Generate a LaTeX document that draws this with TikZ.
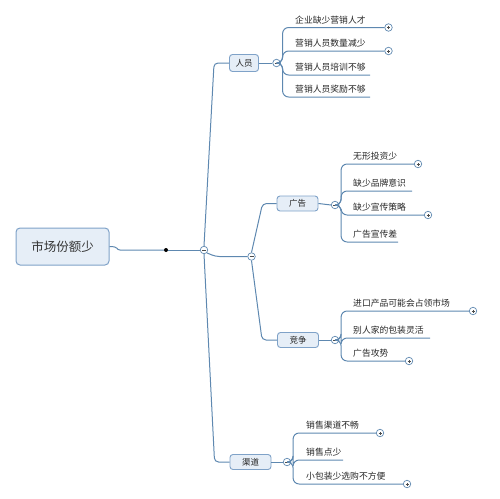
\documentclass[tikz,border=0pt]{standalone}
\usepackage{fontspec}
\newfontfamily\cjk{Noto Sans CJK SC}
\usetikzlibrary{calc}
\definecolor{lineblue}{HTML}{5E88B0}
\definecolor{boxfill}{HTML}{E6EEF7}
\definecolor{boxline}{HTML}{7FA2C8}

\begin{document}
\begin{tikzpicture}[x=1pt,y=-1pt,
  topic/.style={draw=boxline,fill=boxfill,rounded corners=4pt,line width=1pt,minimum width=93pt,minimum height=37pt,font=\cjk\fontsize{12.5}{14}\selectfont,text=black!80},
  branch/.style={draw=boxline,fill=boxfill,rounded corners=3pt,line width=0.9pt,minimum width=41pt,minimum height=15pt,inner sep=1pt,font=\cjk\fontsize{8.5}{10}\selectfont,text=black!85},
  leaf/.style={anchor=base west,inner sep=0pt,font=\cjk\fontsize{8.8}{10}\selectfont,text=black!85},
  conn/.style={draw=lineblue,line width=1pt,rounded corners=6pt},
  fold/.style={circle,draw=lineblue,fill=white,line width=0.7pt,minimum size=7.5pt,inner sep=0pt,
    path picture={\draw[black!70,line width=0.6pt] ([xshift=-2pt]path picture bounding box.center)--([xshift=2pt]path picture bounding box.center);}},
  more/.style={circle,draw=lineblue,fill=white,line width=0.7pt,minimum size=7.5pt,inner sep=0pt,
    path picture={\draw[black!70,line width=0.6pt] ([xshift=-1.5pt]path picture bounding box.center)--([xshift=1.5pt]path picture bounding box.center)
      ([yshift=-1.5pt]path picture bounding box.center)--([yshift=1.5pt]path picture bounding box.center);}}]
\useasboundingbox (0,0) rectangle (500,498);
% centre and main branches
\node[topic] (root) at (62.5,246.5) {市场份额少};
\node[circle,fill=black,inner sep=0pt,minimum size=4pt] (dot) at (166,250) {};
\node[fold] (c1) at (204,250) {};
\node[fold] (c2) at (251.5,256.5) {};
\node[branch,minimum width=29pt,minimum height=17pt] (ry) at (244,63) {人员};
\node[branch] (gg) at (297.5,203.5) {广告};
\node[branch] (jz) at (298,340) {竞争};
\node[branch] (qd) at (250.5,462) {渠道};
\node[fold] (pry) at (276.5,63) {};
\node[fold] (pgg) at (335,205) {};
\node[fold] (pjz) at (335,340) {};
\node[fold] (pqd) at (287,462) {};
\draw[conn] (root.east) .. controls +(10,0) and +(-10,0) .. ([xshift=-40pt]dot.center) -- (dot);
\draw[conn] (dot) -- (c1.west);
\draw[conn,rounded corners=4pt] (c1.north) -- ([xshift=-15pt]ry.west) -- (ry.west);
\draw[conn,rounded corners=4pt] (c1.south) -- ([xshift=-15pt]qd.west) -- (qd.west);
\draw[conn,rounded corners=4pt] (c1.south east) -- ([xshift=-36pt]c2.center) -- (c2.west);
\draw[conn,rounded corners=4pt] (c2.north) -- ([xshift=-14pt]gg.west) -- (gg.west);
\draw[conn,rounded corners=4pt] (c2.south) -- ([xshift=-15pt]jz.west) -- (jz.west);
\draw[conn] (ry.east) -- (pry.west);
\draw[conn] (gg.east) -- (pgg.west);
\draw[conn] (jz.east) -- (pjz.west);
\draw[conn] (qd.east) -- (pqd.west);
% 人员
\node[leaf] (ry1) at (295,23) {企业缺少营销人才};
\node[more] (ry1m) at (388.5,27.5) {};
\node[leaf] (ry2) at (295,46.5) {营销人员数量减少};
\node[more] (ry2m) at (388.5,51) {};
\node[leaf] (ry3) at (295,70.5) {营销人员培训不够};
\coordinate (ry3e) at (370,75);
\node[leaf] (ry4) at (295,92.5) {营销人员奖励不够};
\coordinate (ry4e) at (370,97);
\draw[conn] (pry.east) -- ++(2,0) |- (ry1m.west);
\draw[conn] (pry.east) -- ++(2,0) |- (ry2m.west);
\draw[conn] (pry.east) -- ++(2,0) |- (ry3e);
\draw[conn] (pry.east) -- ++(2,0) |- (ry4e);
% 广告
\node[leaf] (gg1) at (353,159.5) {无形投资少};
\node[more] (gg1m) at (418,164) {};
\node[leaf] (gg2) at (353,186.5) {缺少品牌意识};
\coordinate (gg2e) at (412,191);
\node[leaf] (gg3) at (353,210.5) {缺少宣传策略};
\node[more] (gg3m) at (428,215) {};
\node[leaf] (gg4) at (353,237.5) {广告宣传差};
\coordinate (gg4e) at (398,242);
\draw[conn] (pgg.east) -- ++(2,0) |- (gg1m.west);
\draw[conn] (pgg.east) -- ++(2,0) |- (gg2e);
\draw[conn] (pgg.east) -- ++(2,0) |- (gg3m.west);
\draw[conn] (pgg.east) -- ++(2,0) |- (gg4e);
% 竞争
\node[leaf] (jz1) at (353,306.5) {进口产品可能会占领市场};
\node[more] (jz1m) at (473,311) {};
\node[leaf] (jz2) at (353,333.5) {别人家的包装灵活};
\coordinate (jz2e) at (430,338);
\node[leaf] (jz3) at (353,356) {广告攻势};
\node[more] (jz3m) at (409,361) {};
\draw[conn] (pjz.east) -- ++(2,0) |- (jz1m.west);
\draw[conn] (pjz.east) -- ++(2,0) |- (jz2e);
\draw[conn] (pjz.east) -- ++(2,0) |- (jz3m.west);
% 渠道
\node[leaf] (qd1) at (306,428.5) {销售渠道不畅};
\node[more] (qd1m) at (380,433) {};
\node[leaf] (qd2) at (306,455.5) {销售点少};
\coordinate (qd2e) at (343,460);
\node[leaf] (qd3) at (306,479.5) {小包装少选购不方便};
\node[more] (qd3m) at (407,484) {};
\draw[conn] (pqd.east) -- ++(2,0) |- (qd1m.west);
\draw[conn] (pqd.east) -- ++(2,0) |- (qd2e);
\draw[conn] (pqd.east) -- ++(2,0) |- (qd3m.west);
\end{tikzpicture}
\end{document}
